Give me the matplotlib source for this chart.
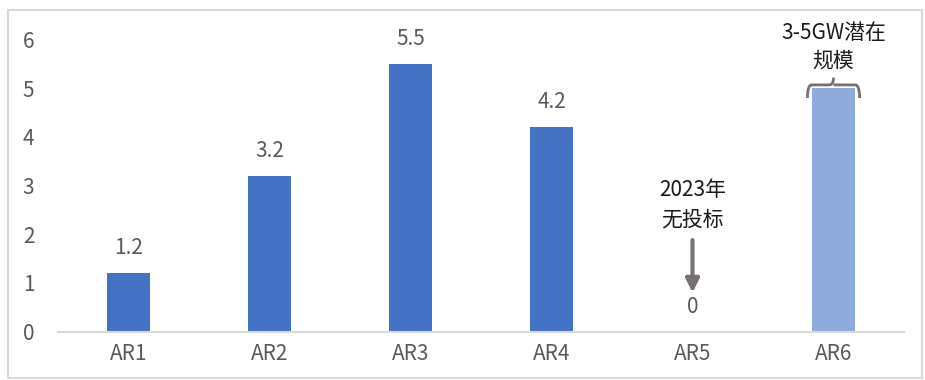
import matplotlib.pyplot as plt
from matplotlib.patches import Rectangle
from matplotlib.path import Path
from matplotlib.patches import PathPatch

plt.rcParams['font.family'] = ['Noto Sans CJK SC', 'DejaVu Sans']
plt.rcParams['font.weight'] = 'light'

# data
categories = ["AR1", "AR2", "AR3", "AR4", "AR5", "AR6"]
values = [1.2, 3.2, 5.5, 4.2, 0, 5]
value_labels = ["1.2", "3.2", "5.5", "4.2", "0", ""]
bar_colors = ["#4472C4", "#4472C4", "#4472C4", "#4472C4", "#4472C4", "#8FAADC"]
note_ar5 = "2023年\n无投标"
note_ar6 = "3-5GW潜在\n规模"

fig = plt.figure(figsize=(9.25, 3.8), dpi=100)
ax = fig.add_axes([0.0627, 0.1276, 0.9146, 0.768])

x = list(range(len(categories)))
bar_w = 0.31
ax.bar(x, values, width=bar_w, color=bar_colors)

ax.set_xlim(-0.5, len(categories) - 0.5)
ax.set_ylim(0, 6)
ax.set_yticks(range(0, 7))
ax.set_xticks(x)
ax.set_xticklabels(categories)
ax.tick_params(axis='both', length=0, labelsize=15, colors='#595959')
ax.tick_params(axis='y', pad=17)
ax.tick_params(axis='x', pad=8)
for s in ['top', 'right', 'left']:
    ax.spines[s].set_visible(False)
ax.spines['bottom'].set_color('#D9D9D9')
ax.spines['bottom'].set_linewidth(1.5)

# value labels
for xi, v, lab in zip(x, values, value_labels):
    if lab == "":
        continue
    ax.annotate(lab, (xi, v), xytext=(0, 10), textcoords='offset points',
                ha='center', va='bottom', fontsize=15, color='#595959')

# AR5 note with arrow
i5 = categories.index("AR5")
ax.annotate("", xy=(i5, 0.8), xytext=(i5, 1.88),
            arrowprops=dict(arrowstyle='-|>,head_length=0.8,head_width=0.4',
                            color='#767171', lw=3, shrinkA=0, shrinkB=0))
ax.text(i5, 2.6, note_ar5, ha='center', va='center', fontsize=15,
        color='#1a1a1a', linespacing=1.45)

# AR6 brace and note
i6 = categories.index("AR6")
v6 = values[i6]
hw = bar_w / 2 + 0.03
yb = v6 - 0.2
ym = v6 + 0.07
yt = v6 + 0.22
verts = [(i6 - hw, yb), (i6 - hw, ym), (i6 - hw + 0.03, ym),
         (i6 - 0.03, ym), (i6, ym), (i6, yt),
         (i6, ym), (i6 + 0.03, ym),
         (i6 + hw - 0.03, ym), (i6 + hw, ym), (i6 + hw, yb)]
codes = [Path.MOVETO, Path.CURVE3, Path.CURVE3, Path.LINETO, Path.CURVE3, Path.CURVE3,
         Path.MOVETO, Path.CURVE3, Path.LINETO, Path.CURVE3, Path.CURVE3]
ax.add_patch(PathPatch(Path(verts, codes), fill=False, edgecolor='#767171', lw=2,
                       clip_on=False, zorder=3))
ax.text(i6, 5.85, note_ar6, ha='center', va='center', fontsize=15,
        color='#1a1a1a', linespacing=1.35, clip_on=False)

# outer border
fig.patches.append(Rectangle((8 / 925, 2 / 380), 914 / 925, 368 / 380,
                             transform=fig.transFigure, fill=False,
                             edgecolor='#D9D9D9', lw=1.5))

fig.savefig('out.png', dpi=100)
